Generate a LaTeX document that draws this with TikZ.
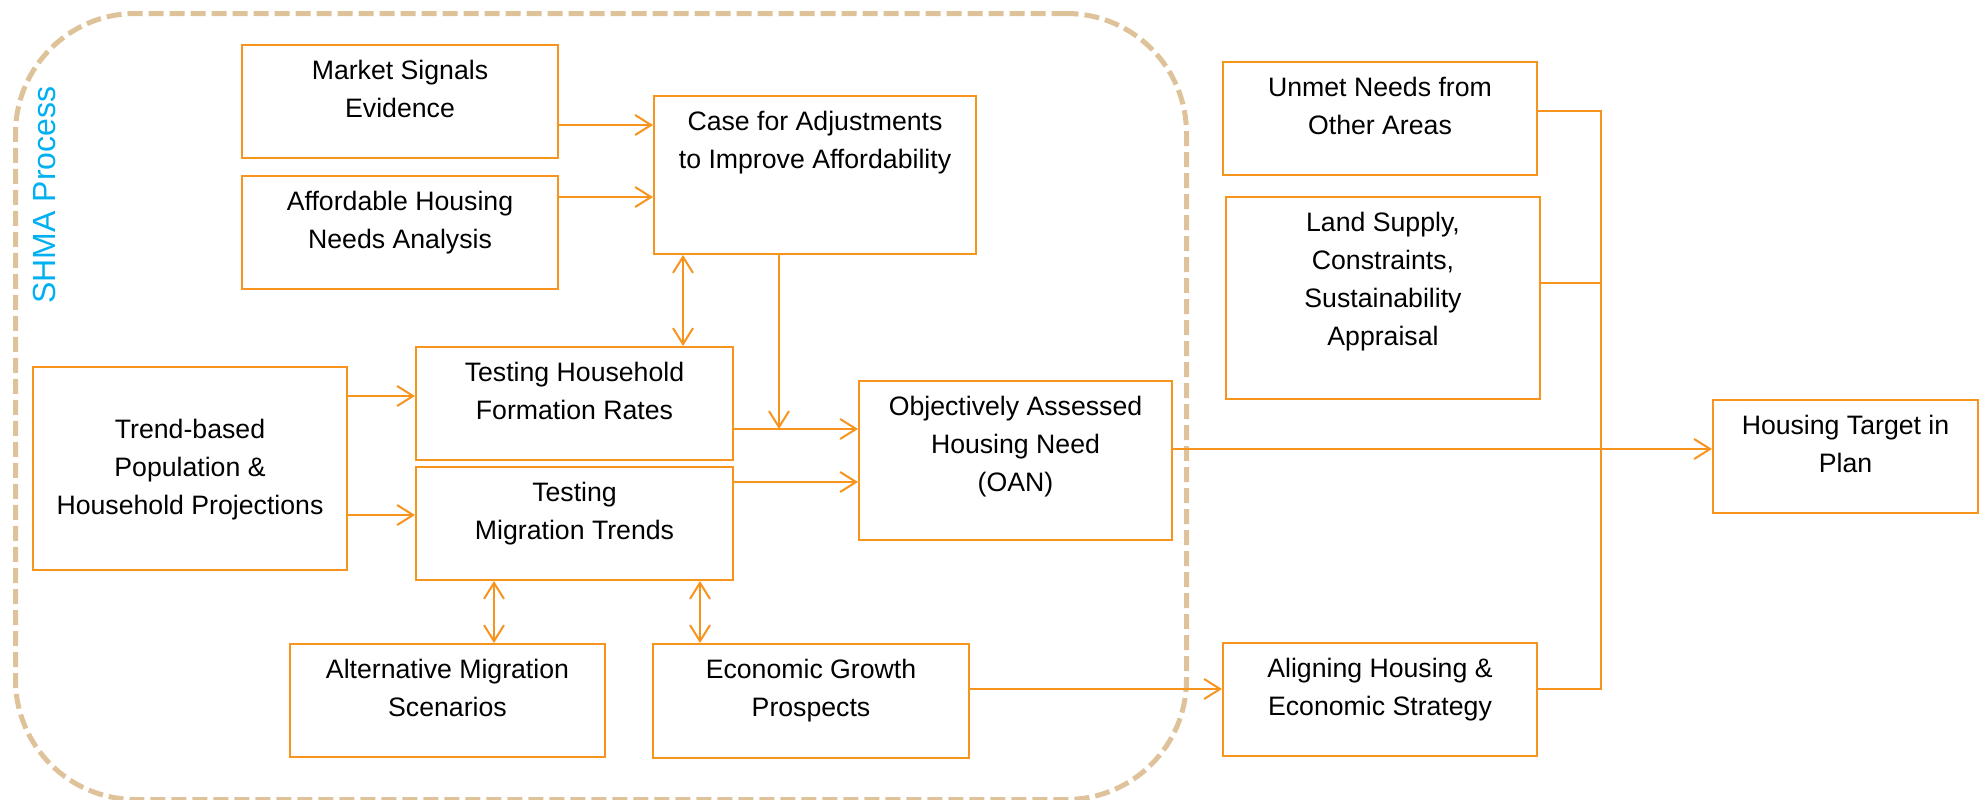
\documentclass[tikz,border=0pt]{standalone}
\usepackage{fontspec}
\setmainfont{Liberation Sans}
\usetikzlibrary{arrows.meta,calc}
\definecolor{orng}{HTML}{F7941E}
\definecolor{shmatan}{HTML}{DEC299}
\definecolor{shmablue}{HTML}{00B0F0}
\newdimen\upx \upx=0.75pt
\newcommand{\mkbox}[6]{%
  \node[box, minimum width={(#4-#2)*\upx}, minimum height={(#5-#3)*\upx}, anchor=north west] (#1) at (#2,#3) {};
  \node[txt, anchor=north] (#1-t) at ([yshift=-16\upx]#1.north) {#6};
}
\begin{document}
\begin{tikzpicture}[x=0.75pt,y=-0.75pt,
  box/.style={draw=orng, line width=1.5pt, inner sep=0pt, fill=none},
  txt/.style={inner sep=0pt, align=center, font=\fontsize{20pt}{28.5pt}\selectfont},
  conn/.style={draw=orng, line width=1.5pt},
  arr/.style={conn, -{Straight Barb[length=12pt,width=15pt]}},
  darr/.style={conn, {Straight Barb[length=12pt,width=15pt]}-{Straight Barb[length=12pt,width=15pt]}},
  shmastyle/.style={draw=shmatan, line width=3.75pt, dash pattern=on 11.25pt off 4.5pt, rounded corners=90pt, inner sep=0pt}]
\useasboundingbox (0,0) rectangle (1986,800);
% SHMA process frame
\node[shmastyle, minimum width={1171*\upx}, minimum height={786*\upx}, anchor=north west] (shma) at (13,11) {};
\node[rotate=90, text=shmablue, inner sep=0pt, font=\fontsize{24pt}{28pt}\selectfont] (shmalbl) at (44,195) {SHMA Process};
% boxes
\mkbox{market}{241}{44}{557}{157}{Market Signals\\Evidence}
\mkbox{afford}{241}{175}{557}{288}{Affordable Housing\\Needs Analysis}
\mkbox{case}{653}{95}{975}{253}{Case for Adjustments\\to Improve Affordability}
\node[box, minimum width={314*\upx}, minimum height={203*\upx}, anchor=north west] (trend) at (32,366) {};
\node[txt] (trend-t) at ([yshift=-1\upx]trend.center) {Trend-based\\Population \&\\Household Projections};
\mkbox{hh}{415}{346}{732}{459}{Testing Household\\Formation Rates}
\mkbox{mig}{415}{466}{732}{579}{Testing\\Migration Trends}
\mkbox{oan}{858}{380}{1171}{539}{Objectively Assessed\\Housing Need\\(OAN)}
\mkbox{alt}{289}{643}{604}{756}{Alternative Migration\\Scenarios}
\mkbox{econ}{652}{643}{968}{757}{Economic Growth\\Prospects}
\mkbox{unmet}{1222}{61}{1536}{174}{Unmet Needs from\\Other Areas}
\mkbox{land}{1225}{196}{1539}{398}{Land Supply,\\Constraints,\\Sustainability\\Appraisal}
\mkbox{align}{1222}{642}{1536}{755}{Aligning Housing \&\\Economic Strategy}
\mkbox{ht}{1712}{399}{1977}{512}{Housing Target in\\Plan}
% connectors
\draw[arr] (market.east |- 0,125) -- (case.west |- 0,125);
\draw[arr] (afford.east |- 0,197) -- (case.west |- 0,197);
\draw[darr] (case.south -| 683,0) -- (hh.north -| 683,0);
\coordinate (jn) at (779,429);
\draw[arr] (case.south -| jn) -- (jn);
\draw[arr] (hh.east |- jn) -- (oan.west |- jn);
\draw[arr] (mig.east |- 0,482) -- (oan.west |- 0,482);
\draw[arr] (trend.east |- 0,396) -- (hh.west |- 0,396);
\draw[arr] (trend.east |- 0,515) -- (mig.west |- 0,515);
\draw[darr] (mig.south -| 494,0) -- (alt.north -| 494,0);
\draw[darr] (mig.south -| 700,0) -- (econ.north -| 700,0);
\draw[arr] (econ.east |- 0,689) -- (align.west |- 0,689);
\draw[arr] (oan.east |- 0,449) -- (ht.west |- 0,449);
\coordinate (bus) at (1601,0);
\draw[conn] (unmet.east |- 0,111) -- (bus |- 0,111) -- (bus |- 0,689) -- (align.east |- 0,689);
\draw[conn] (land.east |- 0,283) -- (bus |- 0,283);
\end{tikzpicture}
\end{document}
